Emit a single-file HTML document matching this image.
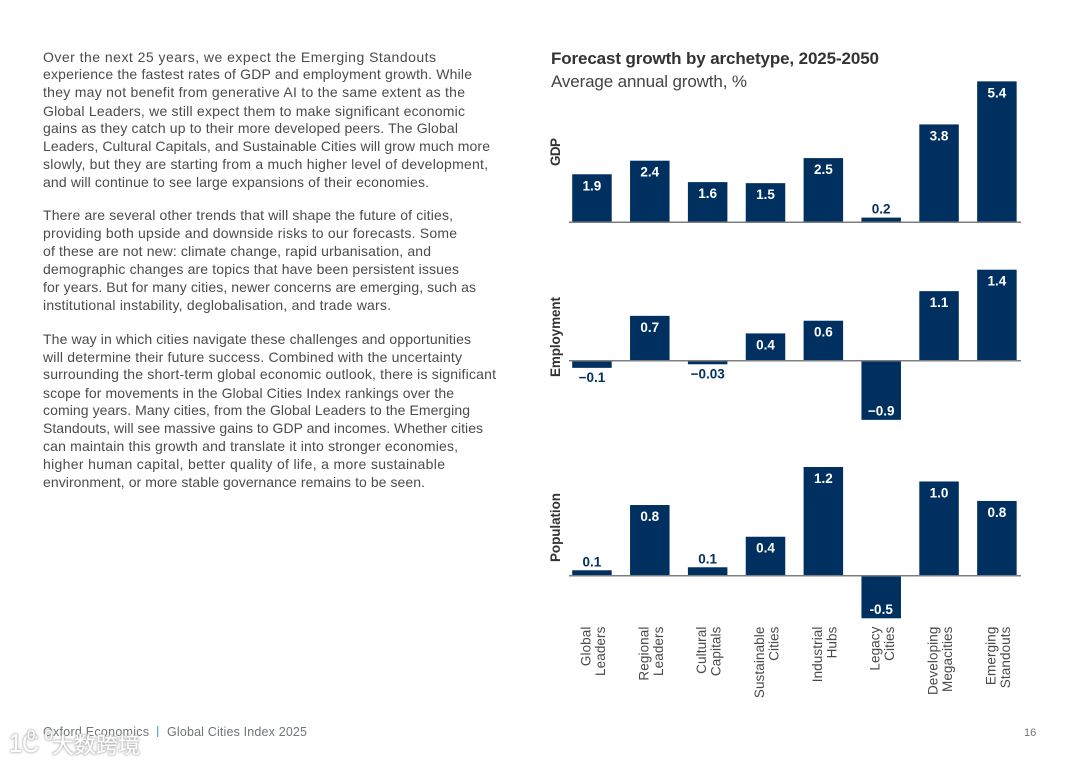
<!DOCTYPE html>
<html lang="en">
<head>
<meta charset="utf-8">
<title>Forecast growth by archetype, 2025-2050</title>
<style>
html,body{margin:0;padding:0;background:#fff;width:1080px;height:764px;overflow:hidden}
svg{display:block}
text{font-family:"Liberation Sans","Noto Sans CJK SC",sans-serif}
.body-text text{font-size:14px;fill:#4b4b4b}
.value{font-size:13.5px;font-weight:bold;text-anchor:middle}
.cat{font-size:13.5px;fill:#4a4a4a;letter-spacing:.1px;text-anchor:end}
.axis-title{font-size:13.5px;font-weight:bold;fill:#333;text-anchor:middle}
.foot{font-size:12.5px;fill:#6f7578}
.wm{fill:#fff;stroke:#cfcfcf;stroke-width:.8px;paint-order:stroke;filter:drop-shadow(0 0 1.2px #a4a4a4)}
</style>
</head>
<body>
<svg id="page" xmlns="http://www.w3.org/2000/svg" width="1080" height="764" viewBox="0 0 1080 764">
  <g class="body-text">
    <text x="43" y="62" textLength="393">Over the next 25 years, we expect the Emerging Standouts</text>
    <text x="43" y="79" textLength="429">experience the fastest rates of GDP and employment growth. While</text>
    <text x="43" y="97" textLength="422">they may not benefit from generative AI to the same extent as the</text>
    <text x="43" y="116" textLength="422">Global Leaders, we still expect them to make significant economic</text>
    <text x="43" y="133" textLength="415">gains as they catch up to their more developed peers. The Global</text>
    <text x="43" y="151" textLength="447">Leaders, Cultural Capitals, and Sustainable Cities will grow much more</text>
    <text x="43" y="169" textLength="445">slowly, but they are starting from a much higher level of development,</text>
    <text x="43" y="187" textLength="386">and will continue to see large expansions of their economies.</text>
  </g>
  <g class="body-text">
    <text x="43" y="220" textLength="410">There are several other trends that will shape the future of cities,</text>
    <text x="43" y="238" textLength="414">providing both upside and downside risks to our forecasts. Some</text>
    <text x="43" y="256" textLength="388">of these are not new: climate change, rapid urbanisation, and</text>
    <text x="43" y="274" textLength="416">demographic changes are topics that have been persistent issues</text>
    <text x="43" y="292" textLength="433">for years. But for many cities, newer concerns are emerging, such as</text>
    <text x="43" y="310" textLength="348">institutional instability, deglobalisation, and trade wars.</text>
  </g>
  <g class="body-text">
    <text x="43" y="344" textLength="428">The way in which cities navigate these challenges and opportunities</text>
    <text x="43" y="362" textLength="419">will determine their future success. Combined with the uncertainty</text>
    <text x="43" y="379" textLength="453">surrounding the short-term global economic outlook, there is significant</text>
    <text x="43" y="398" textLength="411">scope for movements in the Global Cities Index rankings over the</text>
    <text x="43" y="415" textLength="427">coming years. Many cities, from the Global Leaders to the Emerging</text>
    <text x="43" y="433" textLength="440">Standouts, will see massive gains to GDP and incomes. Whether cities</text>
    <text x="43" y="451" textLength="415">can maintain this growth and translate it into stronger economies,</text>
    <text x="43" y="469" textLength="402">higher human capital, better quality of life, a more sustainable</text>
    <text x="43" y="487" textLength="382">environment, or more stable governance remains to be seen.</text>
  </g>

  <text x="551" y="64" textLength="328" font-size="17" font-weight="bold" fill="#333">Forecast growth by archetype, 2025-2050</text>
  <text x="551" y="87" textLength="196" font-size="17" fill="#444">Average annual growth, %</text>

  <g id="chart"></g>

  <g>
    <text class="foot" x="43" y="736" textLength="106">Oxford Economics</text>
    <rect x="157" y="726" width="1.3" height="11" fill="#5fb3d0"></rect>
    <text class="foot" x="167" y="736" textLength="140">Global Cities Index 2025</text>
    <text x="1024" y="736" font-size="11" fill="#6f7578">16</text>
  </g>

  <g>
    <text class="wm" x="9" y="752" font-size="26" textLength="30" lengthAdjust="spacingAndGlyphs">1C</text>
    <text class="wm" x="27" y="740" font-size="15" textLength="26">00</text>
    <text class="wm" x="52" y="753" font-size="22" textLength="88">大数跨境</text>
  </g>
</svg>

<script>
const categories = [
  ["Global", "Leaders"],
  ["Regional", "Leaders"],
  ["Cultural", "Capitals"],
  ["Sustainable", "Cities"],
  ["Industrial", "Hubs"],
  ["Legacy", "Cities"],
  ["Developing", "Megacities"],
  ["Emerging", "Standouts"]
];
const gdpValues = [1.84, 2.36, 1.54, 1.5, 2.46, 0.18, 3.75, 5.4];
const gdpLabels = ["1.9", "2.4", "1.6", "1.5", "2.5", "0.2", "3.8", "5.4"];
const employmentValues = [-0.11, 0.69, -0.055, 0.42, 0.615, -0.91, 1.07, 1.4];
const employmentLabels = ["\u22120.1", "0.7", "\u22120.03", "0.4", "0.6", "\u22120.9", "1.1", "1.4"];
const populationValues = [0.06, 0.78, 0.093, 0.43, 1.2, -0.47, 1.04, 0.825];
const populationLabels = ["0.1", "0.8", "0.1", "0.4", "1.2", "-0.5", "1.0", "0.8"];

const NS = "http://www.w3.org/2000/svg";
const chart = document.getElementById("chart");
const BAR_COLOR = "#00305f";
const BAR_WIDTH = 39.5;

function xScale(i) { return 572.2 + i * 57.85; }
function makeYScale(zero, pxPerUnit) { return function (v) { return zero - v * pxPerUnit; }; }

function addText(parent, cls, x, y, str) {
  const t = document.createElementNS(NS, "text");
  t.setAttribute("class", cls);
  t.setAttribute("x", x);
  t.setAttribute("y", y);
  t.textContent = str;
  parent.appendChild(t);
  return t;
}

function drawPanel(name, title, titleX, titleY, titleLen, values, labels, zero, pxPerUnit) {
  const y = makeYScale(zero, pxPerUnit);
  const g = document.createElementNS(NS, "g");
  
  
  chart.appendChild(g);

  const at = addText(g, "axis-title", 0, 0, title);
  at.setAttribute("transform", "translate(" + titleX + "," + titleY + ") rotate(-90)");
  at.setAttribute("textLength", titleLen);
  
  

  values.forEach(function (v, i) {
    const top = Math.min(y(v), y(0));
    const bottom = Math.max(y(v), y(0));
    const h = bottom - top;
    const r = document.createElementNS(NS, "rect");
    r.setAttribute("x", xScale(i));
    r.setAttribute("y", top);
    r.setAttribute("width", BAR_WIDTH);
    r.setAttribute("height", h);
    r.setAttribute("fill", BAR_COLOR);
    
    
    g.appendChild(r);

    const inside = h > 14;
    let ly;
    if (v >= 0) { ly = inside ? top + 16 : top - 4; }
    else { ly = inside ? bottom - 4.5 : bottom + 14; }
    const l = addText(g, "value", xScale(i) + BAR_WIDTH / 2, ly, labels[i]);
    l.setAttribute("fill", inside ? "#fff" : BAR_COLOR);
    
    
  });

  const axis = document.createElementNS(NS, "line");
  axis.setAttribute("x1", 569);
  axis.setAttribute("x2", 1021);
  axis.setAttribute("y1", y(0));
  axis.setAttribute("y2", y(0));
  axis.setAttribute("stroke", "#7c7f82");
  axis.setAttribute("stroke-width", 1.5);
  
  
  g.appendChild(axis);
}

drawPanel("gdp", "GDP", 560, 152, 28, gdpValues, gdpLabels, 222.3, 26.1);
drawPanel("employment", "Employment", 560, 337, 80, employmentValues, employmentLabels, 360.7, 65);
drawPanel("population", "Population", 560, 527.5, 69, populationValues, populationLabels, 575.7, 90.6);

const catGroup = document.createElementNS(NS, "g");


chart.appendChild(catGroup);
categories.forEach(function (pair, i) {
  pair.forEach(function (word, j) {
    const cx = xScale(i) + BAR_WIDTH / 2 + (j === 0 ? -1.5 : 13);
    const t = addText(catGroup, "cat", 0, 0, word);
    t.setAttribute("transform", "translate(" + cx + ",626.5) rotate(-90)");
    
    
  });
});
</script>
</body>
</html>
